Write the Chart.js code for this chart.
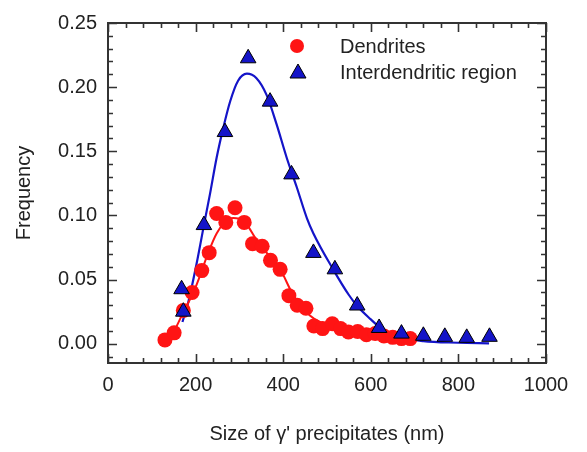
<!DOCTYPE html>
<html>
<head>
<meta charset="utf-8">
<script src="https://cdn.jsdelivr.net/npm/chart.js@4/dist/chart.umd.min.js"></script>
<style>
  html, body { margin: 0; padding: 0; background: #fff; }
  #wrap { width: 587px; height: 452px; }
</style>
</head>
<body>
<div id="wrap"><canvas id="chart" width="587" height="452"></canvas></div>
<script>
// ======== Data ========
const dendX = [130, 151, 172, 192, 214, 231, 248, 269, 290, 311, 330, 352, 371, 393, 413, 432, 452, 470, 490, 512, 531, 549, 570, 590, 610, 630, 650, 670, 690];
const dendY = [0.003, 0.0085, 0.026, 0.040, 0.057, 0.071, 0.1015, 0.0946, 0.106, 0.0946, 0.078, 0.076, 0.065, 0.058, 0.0375, 0.030, 0.0277, 0.0138, 0.0118, 0.0156, 0.0118, 0.0092, 0.0095, 0.007, 0.008, 0.006, 0.005, 0.004, 0.004];

const interX = [168, 172, 219, 267, 320, 370, 419, 469, 518, 569, 619, 670, 720, 769, 819, 871];
const interY = [0.0425, 0.025, 0.0925, 0.165, 0.2225, 0.1887, 0.132, 0.0708, 0.058, 0.0298, 0.0123, 0.0079, 0.0062, 0.0054, 0.0046, 0.0054];

// fitted curves
const fitDendX = [130, 149, 172, 195, 210, 230, 248, 265, 286, 309, 339, 347, 393, 423, 461, 484, 553, 620, 690];
const fitDendY = [0.003, 0.009, 0.0246, 0.040, 0.053, 0.072, 0.086, 0.094, 0.098, 0.096, 0.081, 0.077, 0.058, 0.038, 0.022, 0.017, 0.0105, 0.005, 0.002];

const fitInterX = [170, 183, 202, 221, 233, 248, 263, 279, 297, 317, 339, 362, 385, 408, 431, 454, 469, 514, 550, 570, 600, 620, 660, 720, 800, 870];
const fitInterY = [0.017, 0.032, 0.062, 0.096, 0.117, 0.145, 0.168, 0.189, 0.205, 0.2105, 0.207, 0.194, 0.171, 0.145, 0.122, 0.098, 0.086, 0.058, 0.038, 0.029, 0.019, 0.013, 0.006, 0.002, 0.0008, 0.0003];

const seriesNames = ['Dendrites', 'Interdendritic region'];
const xTicks = [0, 200, 400, 600, 800, 1000];
const yTicks = [0, 0.05, 0.10, 0.15, 0.20, 0.25];
const xMinorStep = 40;
const yMinorStep = 0.01;

const toPoints = (xs, ys) => xs.map((x, i) => ({ x: x, y: ys[i] }));

const RED = '#ff1414';
const BLUE = '#1414c8';
const FONT = 'Arial, "Liberation Sans", sans-serif';

// ======== Inward ticks on all four sides + frame ========
const frameTicks = {
    id: 'frameTicks',
    afterDraw(chart) {
        const { ctx, chartArea: a } = chart;
        const xs = chart.scales.x, ys = chart.scales.y;
        ctx.save();
        ctx.strokeStyle = '#333';
        ctx.lineWidth = 1.6;
        ctx.beginPath();
        for (let v = xs.min; v <= xs.max + 1e-9; v += xMinorStep) {
            const px = Math.round(xs.getPixelForValue(v)) + 0.5;
            const len = xTicks.includes(Math.round(v)) ? 9 : 5;
            ctx.moveTo(px, a.bottom); ctx.lineTo(px, a.bottom - len);
            ctx.moveTo(px, a.top); ctx.lineTo(px, a.top + len);
        }
        for (let i = Math.ceil(ys.min / yMinorStep); i * yMinorStep <= ys.max + 1e-9; i++) {
            const v = i * yMinorStep;
            const py = Math.round(ys.getPixelForValue(v)) + 0.5;
            const len = (i % 5 === 0) ? 9 : 5;
            ctx.moveTo(a.left, py); ctx.lineTo(a.left + len, py);
            ctx.moveTo(a.right, py); ctx.lineTo(a.right - len, py);
        }
        ctx.stroke();
        ctx.lineWidth = 2;
        ctx.strokeRect(a.left, a.top, a.right - a.left, a.bottom - a.top);
        ctx.restore();
    }
};

// ======== Legend inside the plot ========
const insideLegend = {
    id: 'insideLegend',
    afterDraw(chart) {
        const { ctx } = chart;
        ctx.save();
        ctx.font = '20px ' + FONT;
        ctx.textBaseline = 'middle';
        // circle
        ctx.beginPath();
        ctx.arc(297, 46, 7, 0, Math.PI * 2);
        ctx.fillStyle = RED;
        ctx.fill();
        // triangle
        ctx.beginPath();
        ctx.moveTo(298, 64); ctx.lineTo(306, 78); ctx.lineTo(290, 78); ctx.closePath();
        ctx.fillStyle = BLUE;
        ctx.fill();
        ctx.strokeStyle = '#000';
        ctx.lineWidth = 1;
        ctx.stroke();
        ctx.fillStyle = '#222';
        ctx.fillText(seriesNames[0], 340, 47);
        ctx.fillText(seriesNames[1], 340, 73);
        ctx.restore();
    }
};

new Chart(document.getElementById('chart').getContext('2d'), {
    type: 'scatter',
    data: {
        datasets: [
            {
                label: seriesNames[1],
                data: toPoints(interX, interY),
                pointStyle: 'triangle',
                pointRadius: 9,
                backgroundColor: BLUE,
                borderColor: '#000',
                borderWidth: 1,
                order: 0,
            },
            {
                label: seriesNames[0],
                data: toPoints(dendX, dendY),
                pointStyle: 'circle',
                pointRadius: 7.5,
                backgroundColor: RED,
                borderColor: RED,
                borderWidth: 0,
                order: 1,
            },
            {
                label: 'fit dendrites',
                data: toPoints(fitDendX, fitDendY),
                showLine: true,
                pointRadius: 0,
                borderColor: RED,
                borderWidth: 2,
                cubicInterpolationMode: 'monotone',
                order: 2,
            },
            {
                label: 'fit interdendritic',
                data: toPoints(fitInterX, fitInterY),
                showLine: true,
                pointRadius: 0,
                borderColor: BLUE,
                borderWidth: 2.2,
                cubicInterpolationMode: 'monotone',
                order: 3,
            },
        ],
    },
    options: {
        responsive: false,
        animation: false,
        layout: { padding: { left: 12, right: 41, top: 16, bottom: 6 } },
        plugins: {
            legend: { display: false },
            tooltip: { enabled: false },
        },
        scales: {
            x: {
                type: 'linear',
                min: 0,
                max: 1000,
                afterBuildTicks: (s) => { s.ticks = xTicks.map(v => ({ value: v })); },
                afterFit: (s) => { s.height = 83; },
                grid: { display: false, drawTicks: false },
                border: { display: false },
                ticks: {
                    padding: 10,
                    color: '#222',
                    font: { family: FONT, size: 20 },
                    maxRotation: 0,
                    callback: (v) => String(v),
                },
                title: {
                    display: true,
                    text: "Size of \u03b3' precipitates (nm)",
                    color: '#222',
                    font: { family: FONT, size: 20 },
                    padding: { top: 0, bottom: 0 },
                },
            },
            y: {
                type: 'linear',
                min: -0.015,
                max: 0.25,
                afterBuildTicks: (s) => { s.ticks = yTicks.map(v => ({ value: v })); },
                afterFit: (s) => { s.width = 96; },
                grid: { display: false, drawTicks: false },
                border: { display: false },
                ticks: {
                    padding: 11,
                    color: '#222',
                    font: { family: FONT, size: 20 },
                    callback: (v) => v.toFixed(2),
                },
                title: {
                    display: true,
                    text: 'Frequency',
                    color: '#222',
                    font: { family: FONT, size: 20 },
                    padding: { top: 0, bottom: 0 },
                },
            },
        },
    },
    plugins: [frameTicks, insideLegend],
});
</script>
</body>
</html>
